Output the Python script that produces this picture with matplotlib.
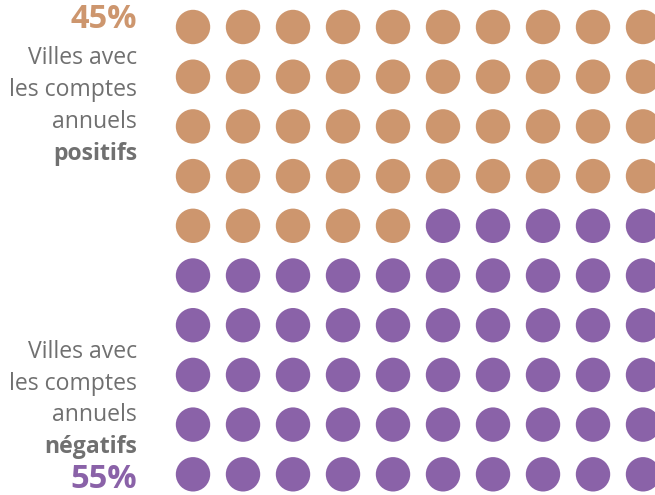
import numpy as np
import matplotlib.pyplot as plt
from matplotlib.patches import Circle

plt.rcParams['font.family'] = ['Open Sans', 'DejaVu Sans']

# data
n_pos = 45
n_neg = 55
pct_labels = ["45%", "55%"]
label_lines_pos = ["Villes avec", "les comptes", "annuels", "positifs"]
label_lines_neg = ["Villes avec", "les comptes", "annuels", "négatifs"]

c_pos = "#CD966E"
c_neg = "#8A62A8"
c_txt = "#707070"

fig = plt.figure(figsize=(6.55, 4.95), dpi=100)
ax = fig.add_axes([0, 0, 1, 1])
ax.set_xlim(0, 655)
ax.set_ylim(495, 0)
ax.axis("off")

# waffle grid 10x10, row-major
x0, y0 = 193, 27
dx, dy = 50, 49.7
r = 17.2
for i in range(n_pos + n_neg):
    row, col = divmod(i, 10)
    color = c_pos if i < n_pos else c_neg
    ax.add_patch(Circle((x0 + col * dx, y0 + row * dy), r, color=color, lw=0))

xt = 137
fs = 16.6
ax.text(xt, 20, pct_labels[0], ha="right", va="center", fontsize=23.5,
        fontweight="bold", color=c_pos)
ys = [58, 90, 122, 154]
for y, s in zip(ys, label_lines_pos):
    ax.text(xt, y, s, ha="right", va="center", fontsize=fs, color=c_txt,
            fontweight="bold" if s == label_lines_pos[-1] else "normal")
ys = [352, 384, 415, 447]
for y, s in zip(ys, label_lines_neg):
    ax.text(xt, y, s, ha="right", va="center", fontsize=fs, color=c_txt,
            fontweight="bold" if s == label_lines_neg[-1] else "normal")
ax.text(xt, 479, pct_labels[1], ha="right", va="center", fontsize=23.5,
        fontweight="bold", color=c_neg)

plt.savefig("out.png", dpi=100)
